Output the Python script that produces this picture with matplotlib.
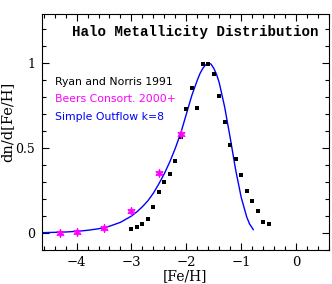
import matplotlib
matplotlib.use("Agg")
import matplotlib.pyplot as plt
from matplotlib.ticker import MultipleLocator, FixedLocator

# Ryan and Norris 1991 (black squares)
rn_x = [-3.0, -2.9, -2.8, -2.7, -2.6, -2.5, -2.4, -2.3, -2.2, -2.1, -2.0, -1.9, -1.8,
        -1.7, -1.6, -1.5, -1.4, -1.3, -1.2, -1.1, -1.0, -0.9, -0.8, -0.7, -0.6, -0.5]
rn_y = [0.023, 0.037, 0.051, 0.083, 0.155, 0.244, 0.300, 0.347, 0.423, 0.566, 0.729, 0.853, 0.738,
        0.993, 0.993, 0.937, 0.809, 0.653, 0.516, 0.437, 0.339, 0.250, 0.191, 0.130, 0.067, 0.051]

# Beers Consort. 2000+ (magenta stars)
bc_x = [-4.3, -4.0, -3.5, -3.0, -2.5, -2.1]
bc_y = [0.0, 0.005, 0.030, 0.130, 0.355, 0.585]

# Simple Outflow k=8 (blue curve)
so_x = [-4.63, -4.4, -4.2, -4.0, -3.8, -3.6, -3.4, -3.2, -3.0, -2.9, -2.8, -2.7, -2.6,
        -2.5, -2.4, -2.3, -2.2, -2.1, -2.0, -1.9, -1.8, -1.75, -1.7, -1.65, -1.6, -1.55,
        -1.5, -1.45, -1.4, -1.3, -1.2, -1.1, -1.0, -0.9, -0.85, -0.78]
so_y = [0.002, 0.004, 0.006, 0.010, 0.016, 0.025, 0.040, 0.063, 0.100, 0.125, 0.155, 0.190, 0.235,
        0.290, 0.350, 0.420, 0.500, 0.590, 0.700, 0.810, 0.900, 0.940, 0.970, 0.990, 1.000, 0.995,
        0.970, 0.935, 0.885, 0.740, 0.560, 0.370, 0.210, 0.095, 0.055, 0.020]

x_ticks = [-4, -3, -2, -1, 0]
x_ticklabels = ["\u22124", "\u22123", "\u22122", "\u22121", "0"]
y_ticks = [0, 0.5, 1]
y_ticklabels = ["0", "0.5", "1"]

fig = plt.figure(figsize=(3.32, 2.84), dpi=100)
ax = fig.add_axes([42/332, 1 - 250/284, (329 - 42)/332, (250 - 14)/284])

ax.plot(so_x, so_y, color="#0000ff", lw=1.0, zorder=2)
ax.plot(rn_x, rn_y, ls="none", marker="s", ms=2.2, color="black", mew=0, zorder=3)
ax.plot(bc_x, bc_y, ls="none", marker="o", ms=3.5, mfc="none", mec="#ff00ff", mew=0.8, zorder=4)
ax.plot(bc_x, bc_y, ls="none", marker=(6, 2, 0), ms=6, color="#ff00ff", mew=0.8, zorder=4)

ax.set_xlim(-4.63, 0.6)
ax.set_ylim(-0.1, 1.29)

ax.xaxis.set_major_locator(FixedLocator(x_ticks))
ax.set_xticklabels(x_ticklabels, family="DejaVu Serif", fontsize=9.5)
ax.yaxis.set_major_locator(FixedLocator(y_ticks))
ax.set_yticklabels(y_ticklabels, family="DejaVu Serif", fontsize=9)
ax.xaxis.set_minor_locator(MultipleLocator(0.2))
ax.yaxis.set_minor_locator(MultipleLocator(0.1))
ax.tick_params(which="both", direction="in", top=True, right=True, width=0.8, color="black")
ax.tick_params(which="major", length=5, pad=4)
ax.tick_params(axis="y", which="major", pad=5)
ax.tick_params(which="minor", length=3)
for s in ax.spines.values():
    s.set_linewidth(0.8)

ax.set_xlabel("[Fe/H]", family="DejaVu Serif", fontsize=10)
ax.xaxis.set_label_coords(0.5, -0.079)
ax.xaxis.label.set_va("top")
ax.set_ylabel("dn/d[Fe/H]", family="DejaVu Serif", fontsize=10.5)
ax.yaxis.set_label_coords(-0.097, 0.545)

ax.text(318/332, 1 - 32/284, "Halo Metallicity Distribution", transform=fig.transFigure,
        ha="right", va="center", family="Liberation Mono", fontweight="bold", fontsize=10.2)

lx = 55
for i, (txt, c) in enumerate([("Ryan and Norris 1991", "black"),
                               ("Beers Consort. 2000+", "#ff00ff"),
                               ("Simple Outflow k=8", "#0000ff")]):
    fig.text(lx/332, 1 - (82 + 17.5*i)/284, txt, color=c, fontsize=7.8,
             ha="left", va="center", family="DejaVu Sans")

fig.savefig("out.png", dpi=100)
